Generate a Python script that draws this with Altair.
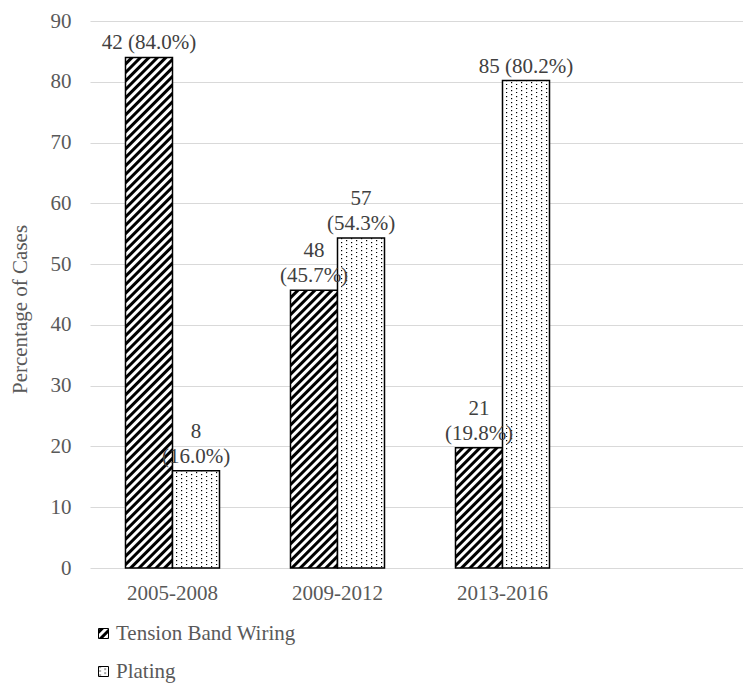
import altair as alt
import pandas as pd
import altair.utils.html as _alt_html

# ---------------- data ----------------
periods = ["2005-2008", "2009-2012", "2013-2016"]
methods = ["Tension Band Wiring", "Plating"]
tbw_counts = [42, 48, 21]
tbw_pct = [84.0, 45.7, 19.8]
plating_counts = [8, 57, 85]
plating_pct = [16.0, 54.3, 80.2]
# label wraps onto two lines (as in the original)
tbw_wrap = [False, True, True]
plating_wrap = [True, True, False]
y_ticks = [0, 10, 20, 30, 40, 50, 60, 70, 80, 90]

rows = []
for method, counts, pcts, wraps in [
    (methods[0], tbw_counts, tbw_pct, tbw_wrap),
    (methods[1], plating_counts, plating_pct, plating_wrap),
]:
    for period, n, p, w in zip(periods, counts, pcts, wraps):
        if w:
            upper, lower = f"{n}", f"({p:.1f}%)"
        else:
            upper, lower = "", f"{n} ({p:.1f}%)"
        rows.append({"period": period, "method": method, "pct": p,
                     "upper": upper, "lower": lower})
df = pd.DataFrame(rows)

# ---------------- hatch / dot fill patterns ----------------
PATTERN_DEFS = """<svg width="0" height="0" aria-hidden="true" style="position:absolute;width:0;height:0;overflow:hidden">
<defs>
<pattern id="hatch" patternUnits="userSpaceOnUse" width="6" height="6" patternTransform="rotate(45)">
<rect width="6" height="6" fill="white"/>
<rect x="0" y="0" width="3" height="6" fill="black"/>
</pattern>
<pattern id="dots" patternUnits="userSpaceOnUse" width="10" height="8">
<rect width="10" height="8" fill="white"/>
<rect x="1" y="1" width="1.2" height="1.2" fill="black"/>
<rect x="1" y="5" width="1.2" height="1.2" fill="black"/>
<rect x="6" y="3" width="1.2" height="1.2" fill="black"/>
<rect x="6" y="7" width="1.2" height="1.2" fill="black"/>
</pattern>
</defs></svg>"""

_std_template = _alt_html.TEMPLATES["standard"]


class _WithPatterns:
    def render(self, *args, **kwargs):
        html = _std_template.render(*args, **kwargs)
        return html.replace("<body>", "<body>\n" + PATTERN_DEFS, 1)


_alt_html.TEMPLATES["standard"] = _WithPatterns()

# ---------------- chart ----------------
AXIS_GRAY = "#595959"
LABEL_GRAY = "#404040"
FONT = "Liberation Serif"

base = alt.Chart(df).encode(
    x=alt.X(
        "period:N",
        sort=periods,
        scale=alt.Scale(domain=periods, paddingInner=0, paddingOuter=0.4788, align=0),
        axis=alt.Axis(title=None, labelAngle=0, domain=False, ticks=False, grid=False,
                      labelFontSize=21, labelColor=AXIS_GRAY, labelPadding=31,
                      labelBaseline="alphabetic", labelFont=FONT),
    ),
    xOffset=alt.XOffset(
        "method:N", sort=methods,
        scale=alt.Scale(domain=methods, paddingInner=0, paddingOuter=0.755),
    ),
)

bars = base.mark_bar(stroke="black", strokeWidth=1.5).encode(
    y=alt.Y(
        "pct:Q",
        scale=alt.Scale(domain=[0, 90], nice=False),
        axis=alt.Axis(values=y_ticks, title="Percentage of Cases", domain=False, ticks=False,
                      grid=True, gridColor="#d9d9d9", gridWidth=1,
                      labelFontSize=21, labelColor=AXIS_GRAY, labelPadding=19, labelFont=FONT,
                      titleFontSize=21, titleColor=AXIS_GRAY, titleFontWeight="normal",
                      titleFont=FONT, titleX=-70, titleY=288, titleAngle=270,
                      titleAlign="center", titleBaseline="middle"),
    ),
    fill=alt.Fill(
        "method:N", sort=methods,
        scale=alt.Scale(domain=methods, range=["url(#hatch)", "url(#dots)"]),
        legend=alt.Legend(title=None, orient="none", legendX=3, legendY=602,
                          direction="vertical", symbolType="square", symbolSize=100,
                          symbolStrokeColor="black", symbolStrokeWidth=1,
                          labelFontSize=21, labelColor=AXIS_GRAY, labelFont=FONT,
                          labelLimit=400, labelOffset=2, rowPadding=16, padding=0),
    ),
)

lower_labels = base.mark_text(
    baseline="bottom", dy=-4, fontSize=21, color=LABEL_GRAY, font=FONT,
).encode(
    y=alt.Y("pct:Q"),
    text=alt.Text("lower:N"),
)

upper_labels = base.mark_text(
    baseline="bottom", dy=-29, fontSize=21, color=LABEL_GRAY, font=FONT,
).encode(
    y=alt.Y("pct:Q"),
    text=alt.Text("upper:N"),
)

chart = (
    alt.layer(bars, lower_labels, upper_labels)
    .properties(
        width=653, height=547,
        autosize=alt.AutoSizeParams(type="none"),
        padding={"left": 82, "top": 13, "right": 0, "bottom": 115},
    )
    .configure(font=FONT)
    .configure_view(stroke=None)
)

chart.save("out.html", embed_options={"renderer": "svg", "actions": False})
